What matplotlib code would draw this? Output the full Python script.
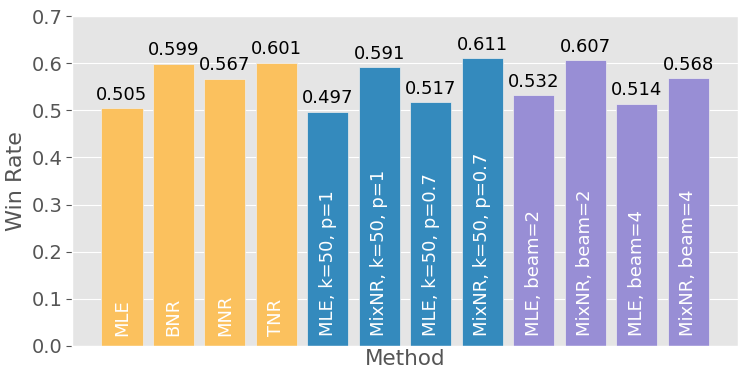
import matplotlib
matplotlib.use("Agg")
import matplotlib.pyplot as plt

plt.style.use("ggplot")

methods = ["MLE", "BNR", "MNR", "TNR",
           "MLE, k=50, p=1", "MixNR, k=50, p=1", "MLE, k=50, p=0.7", "MixNR, k=50, p=0.7",
           "MLE, beam=2", "MixNR, beam=2", "MLE, beam=4", "MixNR, beam=4"]
win_rates = [0.505, 0.599, 0.567, 0.601, 0.497, 0.591, 0.517, 0.611, 0.532, 0.607, 0.514, 0.568]
groups = [0, 0, 0, 0, 1, 1, 1, 1, 2, 2, 2, 2]
group_colors = ["#FBC15E", "#348ABD", "#988ED5"]
yticks = [0.0, 0.1, 0.2, 0.3, 0.4, 0.5, 0.6, 0.7]

fig = plt.figure(figsize=(7.47, 3.81), dpi=100)
ax = fig.add_axes([0.0964, 0.092, 0.8916, 0.866])

x = list(range(len(methods)))
colors = [group_colors[g] for g in groups]
bars = ax.bar(x, win_rates, width=0.8, color=colors, edgecolor="#EEEEEE", linewidth=0.5)

for xi, v, name in zip(x, win_rates, methods):
    ax.text(xi, v + 0.009, f"{v:.3f}", ha="center", va="bottom", fontsize=13, color="black")
    ax.text(xi, 0.021, name, ha="center", va="bottom", rotation=90, fontsize=13, color="white")

ax.set_xlim(-0.97, len(methods) - 1 + 0.97)
ax.set_ylim(0, 0.7)
ax.set_yticks(yticks)
ax.set_yticklabels([f"{t:.1f}" for t in yticks], fontsize=14)
ax.tick_params(axis="y", length=4, width=0.8, color="#555555", labelcolor="#555555", pad=3)
ax.set_xticks([])
ax.set_xlabel("Method", fontsize=15.5, color="#555555", labelpad=2)
ax.set_ylabel("Win Rate", fontsize=16, color="#555555", labelpad=4)
ax.grid(axis="x", visible=False)

fig.savefig("out.png", dpi=100)
